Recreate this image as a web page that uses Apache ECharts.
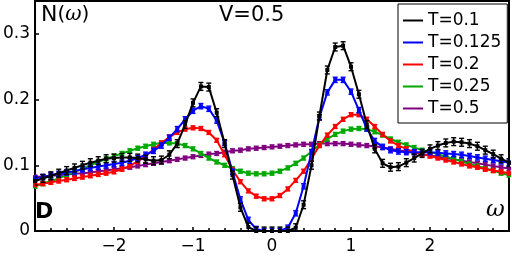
<!DOCTYPE html>
<html><head><meta charset="utf-8">
<script src="https://cdn.jsdelivr.net/npm/echarts@6/dist/echarts.min.js"></script>
<style>html,body{margin:0;padding:0;background:#fff}#c{width:512px;height:256px}</style>
</head><body><div id="c"></div>
<script>
const omega = [-3.0,-2.9,-2.8,-2.7,-2.6,-2.5,-2.4,-2.3,-2.2,-2.1,-2.0,-1.9,-1.8,-1.7,-1.6,-1.5,-1.4,-1.3,-1.2,-1.1,-1.0,-0.9,-0.8,-0.7,-0.6,-0.5,-0.4,-0.3,-0.2,-0.1,0.0,0.1,0.2,0.3,0.4,0.5,0.6,0.7,0.8,0.9,1.0,1.1,1.2,1.3,1.4,1.5,1.6,1.7,1.8,1.9,2.0,2.1,2.2,2.3,2.4,2.5,2.6,2.7,2.8,2.9,3.0];
const nT0100 = [0.076,0.080,0.084,0.088,0.092,0.096,0.100,0.104,0.107,0.110,0.111,0.112,0.112,0.111,0.109,0.107,0.108,0.116,0.133,0.162,0.195,0.220,0.219,0.180,0.133,0.085,0.036,0.006,0.000,0.000,0.000,0.000,0.000,0.005,0.040,0.100,0.175,0.245,0.280,0.282,0.250,0.208,0.162,0.125,0.103,0.097,0.098,0.104,0.111,0.118,0.125,0.130,0.134,0.136,0.135,0.133,0.129,0.123,0.117,0.110,0.104];
const nT0125 = [0.080,0.082,0.085,0.087,0.089,0.091,0.094,0.096,0.098,0.100,0.102,0.104,0.107,0.111,0.116,0.122,0.130,0.142,0.155,0.170,0.183,0.190,0.186,0.168,0.134,0.090,0.048,0.017,0.003,0.000,0.000,0.000,0.005,0.027,0.068,0.120,0.173,0.211,0.230,0.230,0.212,0.184,0.156,0.137,0.128,0.123,0.121,0.120,0.120,0.120,0.120,0.119,0.118,0.117,0.116,0.114,0.112,0.110,0.108,0.106,0.104];
const nT0200 = [0.070,0.072,0.074,0.076,0.078,0.080,0.082,0.084,0.086,0.088,0.090,0.094,0.099,0.106,0.114,0.124,0.134,0.143,0.150,0.155,0.157,0.156,0.150,0.138,0.116,0.093,0.075,0.061,0.053,0.049,0.049,0.054,0.064,0.077,0.091,0.110,0.130,0.146,0.159,0.170,0.177,0.177,0.170,0.159,0.147,0.137,0.130,0.125,0.120,0.117,0.114,0.111,0.108,0.105,0.102,0.099,0.097,0.094,0.092,0.090,0.088];
const nT0250 = [0.068,0.072,0.076,0.080,0.085,0.090,0.095,0.100,0.105,0.110,0.114,0.118,0.122,0.126,0.129,0.132,0.134,0.134,0.133,0.130,0.125,0.118,0.111,0.105,0.100,0.095,0.091,0.088,0.087,0.087,0.088,0.091,0.096,0.103,0.111,0.121,0.131,0.140,0.147,0.152,0.155,0.156,0.155,0.151,0.146,0.140,0.135,0.131,0.127,0.123,0.120,0.117,0.113,0.110,0.106,0.102,0.099,0.095,0.092,0.088,0.085];
const nT0500 = [0.082,0.083,0.084,0.085,0.086,0.087,0.088,0.089,0.091,0.092,0.094,0.095,0.097,0.099,0.101,0.103,0.105,0.107,0.109,0.111,0.113,0.115,0.117,0.118,0.120,0.122,0.123,0.125,0.126,0.127,0.128,0.129,0.130,0.131,0.132,0.132,0.133,0.133,0.133,0.133,0.132,0.131,0.130,0.129,0.127,0.125,0.123,0.121,0.119,0.117,0.115,0.113,0.111,0.109,0.107,0.105,0.103,0.101,0.099,0.097,0.095];
const errBars = [0.006,0.004,0.003,0.003,0.003];
const seriesNames = ['T=0.1','T=0.125','T=0.2','T=0.25','T=0.5'];
const seriesValues = [nT0100,nT0125,nT0200,nT0250,nT0500];
const colors = ['#000000','#0000ff','#ff0000','#00a800','#800080'];

const chart = echarts.init(document.getElementById('c'), null, {renderer:'canvas'});
const series = [];
for (let k = seriesValues.length - 1; k >= 0; k--) {
  const vals = seriesValues[k], col = colors[k], e = errBars[k];
  const z = 10 + (seriesValues.length - k) * 2;
  series.push({
    type:'custom', name: seriesNames[k] + ' err', silent:true, clip:true, z:z,
    data: omega.map((w,i)=>[w, vals[i]-e, vals[i]+e]),
    encode:{x:0, y:[1,2]},
    renderItem:(params, api)=>{
      const x = api.value(0);
      const lo = api.coord([x, api.value(1)]);
      const hi = api.coord([x, api.value(2)]);
      const h = 2.5;
      const st = {stroke:col, lineWidth:1.4};
      return {type:'group', children:[
        {type:'line', shape:{x1:lo[0],y1:lo[1],x2:hi[0],y2:hi[1]}, style:st},
        {type:'line', shape:{x1:lo[0]-h,y1:lo[1],x2:lo[0]+h,y2:lo[1]}, style:st},
        {type:'line', shape:{x1:hi[0]-h,y1:hi[1],x2:hi[0]+h,y2:hi[1]}, style:st}
      ]};
    }
  });
  series.push({
    type:'line', name: seriesNames[k], z:z+1, clip:true,
    data: omega.map((w,i)=>[w, vals[i]]),
    symbol:'rect', symbolSize:4, showAllSymbol:true,
    lineStyle:{color:col, width:2}, itemStyle:{color:col}, color:col,
    animation:false
  });
}

chart.setOption({
  animation:false,
  backgroundColor:'#ffffff',
  grid:{left:32, top:1, right:3, bottom:25, show:true, borderColor:'#000', borderWidth:2, backgroundColor:'transparent'},
  xAxis:{type:'value', min:-3, max:3, interval:1,
    axisLine:{show:true, onZero:false, lineStyle:{color:'#000', width:2}},
    axisTick:{inside:true, length:4, lineStyle:{color:'#000', width:1.5}},
    minorTick:{show:true, splitNumber:5, length:3, lineStyle:{color:'#000', width:1.5}},
    splitLine:{show:false},
    axisLabel:{showMinLabel:false, showMaxLabel:false, color:'#000', fontSize:17, fontFamily:'DejaVu Sans', margin:7,
      formatter:v=> v<0 ? '\u2212'+Math.abs(v) : String(v)}
  },
  yAxis:{type:'value', min:0, max:0.35, interval:0.1,
    axisLine:{show:true, onZero:false, lineStyle:{color:'#000', width:2}},
    axisTick:{inside:true, length:4, lineStyle:{color:'#000', width:1.5}},
    splitLine:{show:false},
    axisLabel:{showMaxLabel:false, color:'#000', fontSize:17, fontFamily:'DejaVu Sans', margin:5,
      formatter:v=> v===0 ? '0' : v.toFixed(1)}
  },
  legend:{
    data: seriesNames.map(n=>({name:n, icon:'rect'})),
    orient:'vertical', left:398, top:4,
    itemWidth:20, itemHeight:2, itemGap:5,
    padding:[8,6,6,5],
    backgroundColor:'#fff', borderColor:'#000', borderWidth:1,
    textStyle:{fontFamily:'DejaVu Sans', fontSize:17, color:'#000', lineHeight:17},
    selectedMode:false
  },
  graphic:[
    {type:'text', left:41, top:4, z:100, style:{text:'{n|N}{p|(}{w|ω}{p|)}', rich:{
      n:{fontFamily:'DejaVu Sans', fontSize:22, fill:'#000'},
      p:{fontFamily:'DejaVu Sans', fontSize:20, fill:'#000'},
      w:{fontFamily:'DejaVu Serif', fontStyle:'italic', fontSize:20, fill:'#000'}}}},
    {type:'text', left:219, top:5, z:100, style:{text:'V=0.5', fontFamily:'DejaVu Sans', fontSize:21, fill:'#000'}},
    {type:'text', left:35, top:201, z:100, style:{text:'D', fontFamily:'DejaVu Sans', fontWeight:'bold', fontSize:22, fill:'#000'}},
    {type:'text', left:486, top:199, z:100, style:{text:'ω', fontFamily:'DejaVu Serif', fontStyle:'italic', fontSize:23, fill:'#000'}}
  ],
  series: series
});
</script></body></html>
